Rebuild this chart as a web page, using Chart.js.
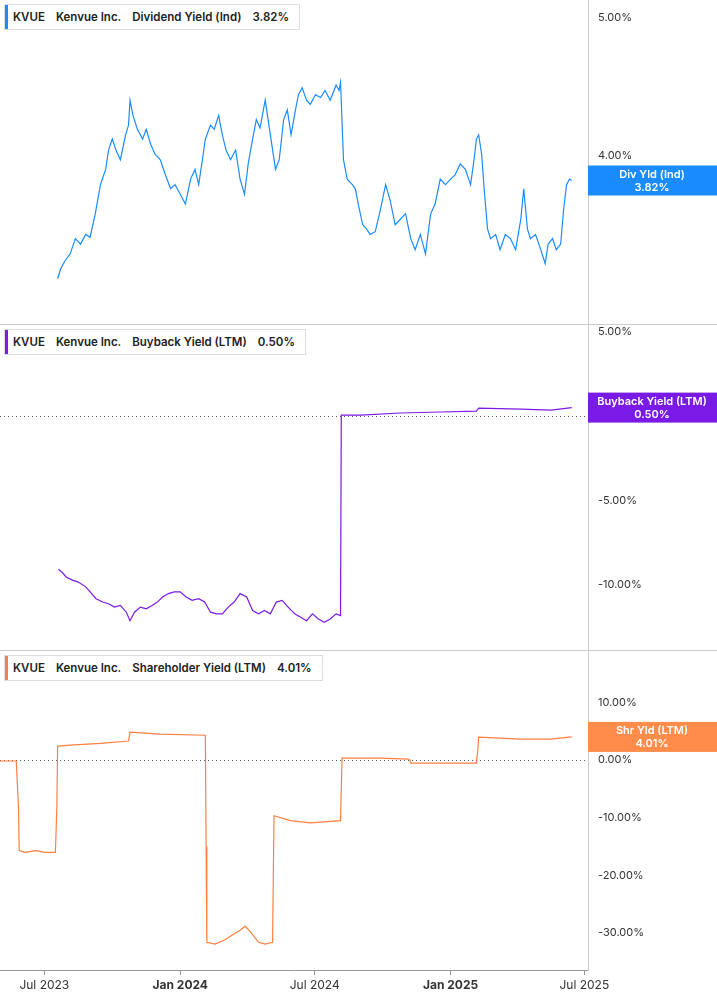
<!DOCTYPE html>
<html><head><meta charset="utf-8">
<script src="https://cdn.jsdelivr.net/npm/chart.js@4/dist/chart.umd.min.js"></script>
<style>
body{margin:0;width:717px;height:1005px;background:#fff;font-family:Inter,"Noto Sans",sans-serif;position:relative;overflow:hidden}
.w{position:absolute;left:0;width:717px;overflow:hidden}
.c{position:absolute;left:0;width:717px}
.t{position:absolute;left:4px;height:26px;background:#fff;border:1px solid #ddd;font-size:11.5px;font-weight:600;color:#222;display:flex;align-items:center;padding:0 10px 0 8px;box-sizing:border-box;z-index:2}
.t b{position:absolute;left:0;top:0;bottom:0;width:3px}
.t span{margin-right:11px}
.sep{position:absolute;left:0;width:717px;height:1px;background:#ccc;z-index:3}
</style></head><body>
<div class="w" style="top:0;height:325px"><div class="c" style="top:-16px;height:357px"><canvas id="c1"></canvas></div></div>
<div class="w" style="top:325px;height:325px"><div class="c" style="top:-16px;height:357px"><canvas id="c2"></canvas></div></div>
<div class="w" style="top:650px;height:355px"><div class="c" style="top:-15px;height:370px"><canvas id="c3"></canvas></div></div>
<div class="sep" style="top:324px"></div><div class="sep" style="top:650px"></div>
<div class="t" style="top:4px"><b style="background:#1a8cff"></b><span>KVUE</span><span>Kenvue Inc.</span><span>Dividend Yield (Ind)</span>3.82%</div>
<div class="t" style="top:329px"><b style="background:#7a1ae6"></b><span>KVUE</span><span>Kenvue Inc.</span><span>Buyback Yield (LTM)</span>0.50%</div>
<div class="t" style="top:655px"><b style="background:#ff7f3f"></b><span>KVUE</span><span>Kenvue Inc.</span><span>Shareholder Yield (LTM)</span>4.01%</div>
<script>
// x = days since 2023-07-01
const divDays=[18,22,28,35,42,49,56,62,69,76,83,87,92,97,103,110,114,116,120,126,133,138,144,150,157,164,171,177,184,191,198,204,209,214,218,225,230,236,241,246,252,259,265,271,276,282,287,292,299,306,313,318,324,329,334,340,344,349,355,360,367,374,380,387,395,399,401,405,410,417,421,425,431,436,441,448,455,462,468,475,482,489,496,502,509,516,523,529,536,543,550,556,563,570,577,581,585,588,592,596,600,604,611,617,624,631,638,645,649,654,658,665,672,678,682,688,693,699,703,707,711,714];
const divVals=[3.11,3.18,3.24,3.29,3.40,3.36,3.43,3.41,3.58,3.79,3.90,4.04,4.12,4.04,3.97,4.15,4.22,4.40,4.29,4.19,4.12,4.19,4.08,4.01,3.97,3.86,3.76,3.79,3.72,3.65,3.83,3.90,3.79,3.97,4.12,4.22,4.19,4.29,4.15,4.04,3.97,4.04,3.83,3.72,3.94,4.12,4.26,4.20,4.40,4.15,3.90,3.97,4.26,4.33,4.15,4.33,4.44,4.49,4.40,4.37,4.44,4.42,4.47,4.40,4.51,4.47,4.53,3.97,3.83,3.79,3.76,3.65,3.50,3.47,3.43,3.45,3.61,3.79,3.68,3.50,3.54,3.58,3.40,3.32,3.43,3.29,3.58,3.65,3.83,3.79,3.83,3.86,3.94,3.90,3.79,3.94,4.12,4.15,4.01,3.72,3.47,3.40,3.43,3.32,3.43,3.40,3.32,3.54,3.76,3.47,3.40,3.43,3.32,3.22,3.36,3.40,3.32,3.36,3.61,3.79,3.83,3.82];
const bbDays=[19,24,30,38,46,56,62,70,79,87,95,103,111,116,122,130,138,146,153,160,168,176,184,192,200,209,217,225,233,241,249,257,265,274,282,290,298,306,314,322,330,339,347,355,363,371,379,387,395,401,402,428,482,536,585,588,645,686,714];
const bbVals=[-9.06,-9.24,-9.53,-9.7,-9.82,-10.1,-10.4,-10.8,-11.0,-11.1,-11.3,-11.2,-11.6,-12.1,-11.6,-11.3,-11.4,-11.2,-11.0,-10.7,-10.5,-10.4,-10.4,-10.7,-10.9,-10.8,-11.0,-11.6,-11.7,-11.7,-11.3,-11.0,-10.5,-10.7,-11.5,-11.7,-11.5,-11.7,-11.0,-10.9,-11.3,-11.7,-11.9,-12.1,-11.7,-12.0,-12.2,-12.0,-11.7,-11.8,0.06,0.06,0.18,0.24,0.29,0.47,0.41,0.35,0.50];
const shDays=[-60,-38,-35,-34,-26,-12,1,15,17,18,35,76,114,115,116,157,218,219,220,231,244,255,265,272,279,290,299,309,310,311,333,360,401,402,403,455,493,495,496,536,585,587,588,645,686,714];
const shVals=[-0.17,-0.17,-8,-15.7,-16.0,-15.7,-16.0,-16.0,-8,2.41,2.6,2.9,3.3,4,4.83,4.5,4.3,-15,-31.6,-31.9,-31.2,-30.3,-29.5,-28.8,-29.8,-31.6,-31.9,-31.6,-20,-9.66,-10.5,-10.9,-10.5,-5,0.34,0.34,0.17,0,-0.52,-0.52,-0.52,2,3.97,3.62,3.62,4.01];
const xTickVals=[0,184,366,550,731];
const xTickLabels=['Jul 2023','Jan 2024','Jul 2024','Jan 2025','Jul 2025'];
const yTicks1=[4,5], yTicks2=[-10,-5,0,5], yTicks3=[-30,-20,-10,0,10];

const pts=(d,v)=>d.map((x,i)=>({x,y:v[i]}));
const tagPlugin={id:'tag',afterDraw(ch,a,o){const c=ch.ctx,ds=ch.data.datasets[0].data,last=ds[ds.length-1];
 const y=ch.scales.y.getPixelForValue(last.y);c.save();c.fillStyle=o.color;c.fillRect(588,y-15,129,30);
 c.fillStyle='#fff';c.font='600 11px Inter, sans-serif';c.textAlign='center';c.textBaseline='middle';
 c.fillText(o.l1,652,y-6);c.fillText(o.l2,652,y+7);c.restore();}};
function make(id,data,color,ymin,ymax,yt,showX,tag,zero){
 return new Chart(document.getElementById(id),{type:'line',
 data:{datasets:[{data,borderColor:color,borderWidth:1.2,pointRadius:0,tension:0}]},
 plugins:[tagPlugin],
 options:{responsive:true,maintainAspectRatio:false,animation:false,
  layout:{padding:0},
  plugins:{legend:{display:false},tooltip:{enabled:false},tag},
  scales:{
   x:{type:'linear',min:-60,max:736,display:true,
     afterBuildTicks(s){s.ticks=xTickVals.map(v=>({value:v}));},
     afterFit(s){s.height=showX?35:0;},
     grid:{display:showX,drawOnChartArea:false,tickLength:5,color:'#999'},
     border:{display:showX,color:'#999'},
     ticks:{display:showX,maxRotation:0,autoSkip:false,color:'#333',
       font:c=>({size:12,family:'Inter, sans-serif',weight:(c.index%2)?'bold':'normal'}),
       callback:(v,i)=>xTickLabels[i]}},
   y:{position:'right',min:ymin,max:ymax,
     afterBuildTicks(s){s.ticks=yt.map(v=>({value:v}));},
     afterFit(s){s.width=129;},
     grid:{drawTicks:false,color:c=>(zero&&c.tick&&c.tick.value===0)?'#555':'transparent'},
     border:{display:true,color:'#ccc',dash:[1,3]},
     ticks:{color:'#333',padding:10,font:{size:11,family:'Inter, sans-serif'},callback:v=>v.toFixed(2)+'%'}}
  }}});
}
make('c1',pts(divDays,divVals),'#1a8cff',2.78,5.12,yTicks1,false,{color:'#1a8cff',l1:'Div Yld (Ind)',l2:'3.82%'},false);
make('c2',pts(bbDays,bbVals),'#7a1ae6',-13.8,5.35,yTicks2,false,{color:'#7a1ae6',l1:'Buyback Yield (LTM)',l2:'0.50%'},true);
make('c3',pts(shDays,shVals),'#ff7f3f',-36.4,18.8,yTicks3,true,{color:'#ff8c4a',l1:'Shr Yld (LTM)',l2:'4.01%'},true);
</script></body></html>
